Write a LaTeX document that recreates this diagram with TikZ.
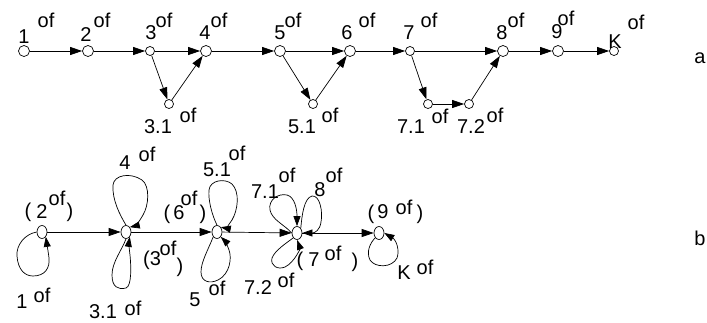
\documentclass[tikz,border=0pt]{standalone}
\usepackage{fontspec}
\setmainfont{Liberation Sans}
\usetikzlibrary{arrows.meta,shapes.geometric}
\begin{document}
\begin{tikzpicture}[x=1pt,y=-1pt,
  vbig/.style={draw, circle, inner sep=0pt, minimum size=11pt, fill=white, line width=0.7pt},
  vsm/.style={draw, circle, inner sep=0pt, minimum size=9pt, fill=white, line width=0.7pt},
  vel/.style={draw, ellipse, inner sep=0pt, minimum width=10pt, minimum height=13pt, fill=white, line width=0.7pt},
  lab/.style={inner sep=0pt, font=\fontsize{20}{20}\selectfont},
  arr/.style={-{Triangle[length=12pt,width=8pt]}, line width=0.7pt},
  larr/.style={-{Triangle[length=10pt,width=7pt]}, line width=0.7pt}]
\useasboundingbox (0,0) rectangle (707,322);
% ---------- top row ----------
\node[vbig] (t1) at (24,51) {};
\node[vbig] (t2) at (88,51) {};
\node[vsm]  (t3) at (150,51) {};
\node[vbig] (t4) at (206,51) {};
\node[vbig] (t5) at (280,51) {};
\node[vbig] (t6) at (350,51) {};
\node[vsm]  (t7) at (410,51) {};
\node[vbig] (t8) at (503,51) {};
\node[vbig] (t9) at (558,51) {};
\node[vsm]  (tK) at (614,51) {};
\node[vsm]  (t31) at (169,104) {};
\node[vsm]  (t51) at (313,104) {};
\node[vsm]  (t71) at (428,104) {};
\node[vsm]  (t72) at (469,104) {};
\draw[arr] (t1) -- (t2);
\draw[arr] (t2) -- (t3);
\draw[arr] (t3) -- (t4);
\draw[arr] (t3) -- (t31);
\draw[arr] (t31) -- (t4);
\draw[arr] (t4) -- (t5);
\draw[arr] (t5) -- (t6);
\draw[arr] (t5) -- (t51);
\draw[arr] (t51) -- (t6);
\draw[arr] (t6) -- (t7);
\draw[arr] (t7) -- (t8);
\draw[arr] (t7) -- (t71);
\draw[arr] (t71) -- (t72);
\draw[arr] (t72) -- (t8);
\draw[arr] (t8) -- (t9);
\draw[arr] (t9) -- (tK);
% top labels
\node[lab] (l1) at (24,37) {1};   \node[lab] (o1) at (46,20) {of};
\node[lab] (l2) at (86,35) {2};   \node[lab] (o2) at (102,20) {of};
\node[lab] (l3) at (151,33) {3};  \node[lab] (o3) at (164,20) {of};
\node[lab] (l4) at (205,33) {4};  \node[lab] (o4) at (219,20) {of};
\node[lab] (l5) at (280,33) {5};  \node[lab] (o5) at (293,20) {of};
\node[lab] (l6) at (347,33) {6};  \node[lab] (o6) at (367,20) {of};
\node[lab] (l7) at (409,33) {7};  \node[lab] (o7) at (429,20) {of};
\node[lab] (l8) at (502,33) {8};  \node[lab] (o8) at (516,20) {of};
\node[lab] (l9) at (557,32) {9};  \node[lab] (o9) at (566,18) {of};
\node[lab] (lK) at (615,42) {K};  \node[lab] (oK) at (636,22) {of};
\node[lab] (l31) at (158,127) {3.1}; \node[lab] (o31) at (188,115) {of};
\node[lab] (l51) at (302,127) {5.1}; \node[lab] (o51) at (330,115) {of};
\node[lab] (l71) at (411,127) {7.1}; \node[lab] (o71) at (440,116) {of};
\node[lab] (l72) at (471,127) {7.2}; \node[lab] (o72) at (495,115) {of};
\node[lab] (la) at (700,58) {a};
% ---------- bottom row ----------
\node[vel] (b2) at (42,232) {};
\node[vel] (b3) at (126,232) {};
\node[vel] (b6) at (217,232) {};
\node[vel] (b7) at (297,233) {};
\node[vel] (b9) at (379,233) {};
\draw[arr] (b2) -- (b3);
\draw[arr] (b3) -- (b6);
\draw[arr] (b6) -- (b7);
\draw[arr] (b7) -- (b9);
% loops
\draw[larr] (b2.west) .. controls (25,234) and (16,245) .. (17,256) .. controls (18,270) and (25,276) .. (33,276) .. controls (45,276) and (50,268) .. (49,258) .. controls (48,250) and (47,245) .. (b2.south east);
\draw[larr] (b3.north) .. controls (120,215) and (112,200) .. (113,185) .. controls (114,175) and (130,172) .. (142,180) .. controls (150,186) and (149,205) .. (143,215) .. controls (139,222) and (135,226) .. (b3.north east);
\draw[larr] (b3.south) .. controls (122,250) and (112,262) .. (112,275) .. controls (112,287) and (118,290) .. (126,288) .. controls (132,286) and (131,265) .. (130,255) .. controls (129,248) and (129,242) .. (b3.south east);
\draw[larr] (b6.north) .. controls (212,215) and (208,200) .. (209,190) .. controls (210,180) and (225,178) .. (232,184) .. controls (240,192) and (238,210) .. (232,220) .. controls (228,226) and (225,228) .. (b6.north east);
\draw[larr] (b6.south west) .. controls (208,250) and (201,262) .. (201,272) .. controls (201,282) and (210,284) .. (218,280) .. controls (230,274) and (232,258) .. (229,250) .. controls (227,244) and (224,240) .. (b6.south east);
\draw[larr] (b7.west) .. controls (285,225) and (272,220) .. (270,210) .. controls (268,200) and (278,193) .. (287,195) .. controls (295,197) and (297,210) .. (b7.north);
\draw[larr] (b7.north east) .. controls (302,215) and (304,198) .. (312,196) .. controls (320,195) and (323,212) .. (321,222) .. controls (320,230) and (315,233) .. (b7.east);
\draw[larr] (b7.south west) .. controls (288,242) and (275,250) .. (272,258) .. controls (270,266) and (278,270) .. (285,267) .. controls (295,262) and (300,248) .. (b7.south);
\draw[larr] (b9.south west) .. controls (370,243) and (366,252) .. (370,260) .. controls (375,268) and (392,268) .. (397,258) .. controls (400,250) and (396,240) .. (b9.east);
% bottom labels
\node[lab] (p2a) at (28,212) {(}; \node[lab] (p2n) at (42,212) {2}; \node[lab] (p2o) at (57,198) {of}; \node[lab] (p2b) at (70,212) {)};
\node[lab] (q4) at (125,163) {4}; \node[lab] (q4o) at (147,154) {of};
\node[lab] (p6a) at (167,214) {(}; \node[lab] (p6n) at (179,213) {6}; \node[lab] (p6o) at (189,198) {of}; \node[lab] (p6b) at (203,214) {)};
\node[lab] (p3a) at (152,260) {(3}; \node[lab] (p3o) at (168,248) {of}; \node[lab] (p3b) at (180,267) {)};
\node[lab] (q1) at (22,302) {1}; \node[lab] (q1o) at (42,295) {of};
\node[lab] (q31) at (103,312) {3.1}; \node[lab] (q31o) at (133,308) {of};
\node[lab] (q5) at (195,300) {5}; \node[lab] (q5o) at (217,288) {of};
\node[lab] (q51) at (217,170) {5.1}; \node[lab] (q51o) at (237,153) {of};
\node[lab] (q71) at (265,192) {7.1}; \node[lab] (q71o) at (287,175) {of};
\node[lab] (q8) at (320,190) {8}; \node[lab] (q8o) at (334,175) {of};
\node[lab] (p7a) at (300,261) {(}; \node[lab] (p7n) at (314,260) {7}; \node[lab] (p7o) at (333,253) {of}; \node[lab] (p7b) at (355,262) {)};
\node[lab] (q72) at (258,288) {7.2}; \node[lab] (q72o) at (286,280) {of};
\node[lab] (p9a) at (371,214) {(}; \node[lab] (p9n) at (383,212) {9}; \node[lab] (p9o) at (404,207) {of}; \node[lab] (p9b) at (420,214) {)};
\node[lab] (qK) at (404,273) {K}; \node[lab] (qKo) at (425,267) {of};
\node[lab] (lb) at (700,238) {b};
\end{tikzpicture}
\end{document}
